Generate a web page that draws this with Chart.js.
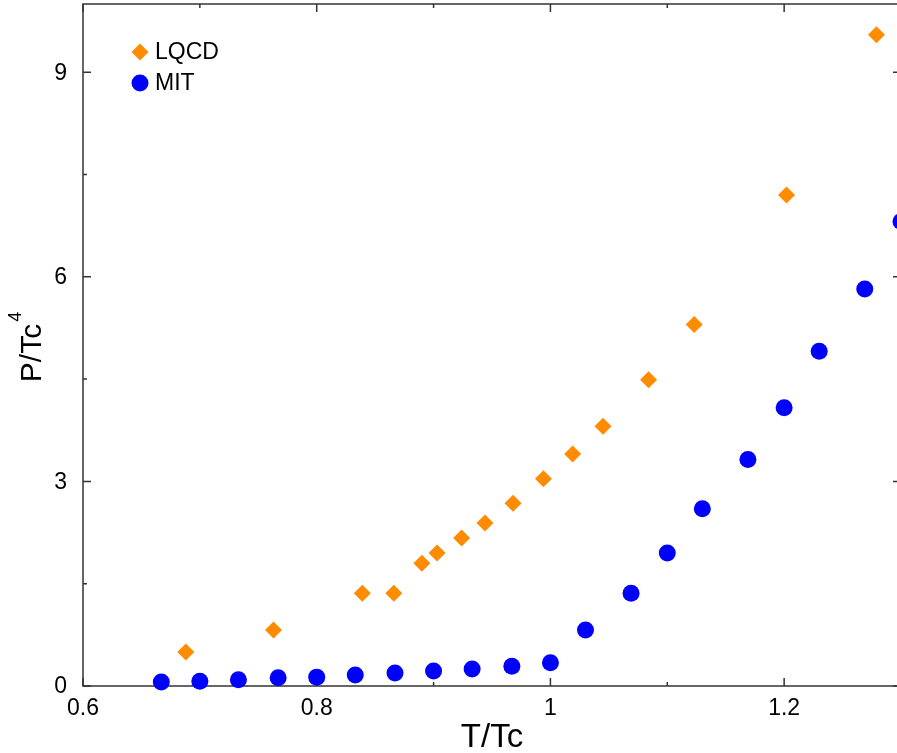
<!DOCTYPE html>
<html>
<head>
<meta charset="utf-8">
<script src="https://cdn.jsdelivr.net/npm/chart.js@4/dist/chart.umd.min.js"></script>
<style>
  html, body { margin: 0; padding: 0; background: #fff; overflow: hidden; }
  canvas { display: block; }
</style>
</head>
<body>
<canvas id="pressureChart" width="905" height="753"></canvas>
<script>
// data
const lqcdT = [0.688, 0.763, 0.839, 0.866, 0.890, 0.903, 0.924, 0.944, 0.968, 0.994, 1.019, 1.045, 1.084, 1.123, 1.202, 1.279];
const lqcdP = [0.50, 0.82, 1.36, 1.36, 1.80, 1.95, 2.17, 2.39, 2.68, 3.04, 3.40, 3.81, 4.49, 5.30, 7.20, 9.55];
const mitT = [0.667, 0.700, 0.733, 0.767, 0.800, 0.833, 0.867, 0.900, 0.933, 0.967, 1.000, 1.030, 1.069, 1.100, 1.130, 1.169, 1.200, 1.230, 1.269, 1.300];
const mitP = [0.06, 0.07, 0.09, 0.12, 0.13, 0.16, 0.19, 0.22, 0.25, 0.29, 0.34, 0.82, 1.36, 1.95, 2.60, 3.32, 4.08, 4.91, 5.82, 6.81];

const xMajorTicks = [0.6, 0.8, 1.0, 1.2];
const xMinorTicks = [0.7, 0.9, 1.1];
const yMajorTicks = [0, 3, 6, 9];
const yMinorTicks = [1.5, 4.5, 7.5];

const seriesNames = ['LQCD', 'MIT'];
const xTitle = 'T/Tc';
const yTitle = 'P/Tc';
const yTitleExp = '4';
const fontFamily = '"Liberation Sans", Arial, sans-serif';

const toPoints = (xs, ys) => xs.map((x, i) => ({ x: x, y: ys[i] }));

// frame with inward ticks on all four sides plus tick labels, drawn before the markers
const framePlugin = {
  id: 'frame',
  beforeDatasetsDraw(chart) {
    const { ctx, chartArea: a, scales: { x, y } } = chart;
    ctx.save();
    ctx.strokeStyle = '#333';
    ctx.lineWidth = 1.5;
    ctx.strokeRect(a.left, a.top, a.right - a.left, a.bottom - a.top);
    ctx.beginPath();
    const xt = (v, len) => {
      const px = x.getPixelForValue(v);
      ctx.moveTo(px, a.bottom); ctx.lineTo(px, a.bottom - len);
      ctx.moveTo(px, a.top); ctx.lineTo(px, a.top + len);
    };
    const yt = (v, len) => {
      const py = y.getPixelForValue(v);
      ctx.moveTo(a.left, py); ctx.lineTo(a.left + len, py);
      ctx.moveTo(a.right, py); ctx.lineTo(a.right - len, py);
    };
    xMajorTicks.forEach(v => xt(v, 8));
    xMinorTicks.forEach(v => xt(v, 4));
    yMajorTicks.forEach(v => yt(v, 8));
    yMinorTicks.forEach(v => yt(v, 4));
    ctx.stroke();

    ctx.fillStyle = '#000';
    ctx.font = '23px ' + fontFamily;
    ctx.textBaseline = 'middle';
    ctx.textAlign = 'center';
    xMajorTicks.forEach(v => ctx.fillText(String(v), x.getPixelForValue(v), a.bottom + 23));
    ctx.textAlign = 'right';
    yMajorTicks.forEach(v => ctx.fillText(String(v), a.left - 16, y.getPixelForValue(v) + 1));
    ctx.restore();
  }
};

// axis titles; the y one carries a raised exponent
const titlesPlugin = {
  id: 'titles',
  afterDraw(chart) {
    const { ctx, chartArea: a } = chart;
    ctx.save();
    ctx.fillStyle = '#000';
    ctx.textBaseline = 'alphabetic';
    ctx.textAlign = 'center';
    ctx.font = '33px ' + fontFamily;
    ctx.fillText(xTitle, (a.left + a.right) / 2, a.bottom + 61);

    ctx.translate(0, (a.top + a.bottom) / 2);
    ctx.rotate(-Math.PI / 2);
    ctx.textAlign = 'left';
    ctx.font = '30px ' + fontFamily;
    const w = ctx.measureText(yTitle).width;
    ctx.font = '18px ' + fontFamily;
    const w4 = ctx.measureText(yTitleExp).width;
    const start = -(w + 2 + w4) / 2 - 2;
    ctx.font = '30px ' + fontFamily;
    ctx.fillText(yTitle, start, 41);
    ctx.font = '18px ' + fontFamily;
    ctx.fillText(yTitleExp, start + w + 2, 21);
    ctx.restore();
  }
};

// legend inside the plot, top left
const innerLegend = {
  id: 'innerLegend',
  afterDatasetsDraw(chart) {
    const { ctx, chartArea: a } = chart;
    ctx.save();
    chart.data.datasets.forEach((ds, i) => {
      const cx = a.left + 57;
      const cy = a.top + 48 + i * 31;
      ctx.fillStyle = ds.backgroundColor;
      ctx.strokeStyle = ds.borderColor;
      Chart.helpers.drawPoint(ctx, { pointStyle: ds.pointStyle, radius: ds.pointRadius, borderWidth: 0, rotation: 0 }, cx, cy);
      ctx.fillStyle = '#000';
      ctx.font = '23px ' + fontFamily;
      ctx.textBaseline = 'middle';
      ctx.textAlign = 'left';
      ctx.fillText(ds.label, cx + 15, cy + 1);
    });
    ctx.restore();
  }
};

new Chart(document.getElementById('pressureChart'), {
  type: 'scatter',
  data: {
    datasets: [
      {
        label: seriesNames[0],
        data: toPoints(lqcdT, lqcdP),
        pointStyle: 'rectRot',
        pointRadius: 8.5,
        pointBorderWidth: 0,
        backgroundColor: '#ff8c00',
        borderColor: '#ff8c00',
        clip: false
      },
      {
        label: seriesNames[1],
        data: toPoints(mitT, mitP),
        pointStyle: 'circle',
        pointRadius: 8.5,
        pointBorderWidth: 0,
        backgroundColor: '#0000ff',
        borderColor: '#0000ff',
        clip: false
      }
    ]
  },
  options: {
    responsive: false,
    animation: false,
    layout: { autoPadding: false, padding: { top: 4, right: 4, left: 0, bottom: 0 } },
    plugins: {
      legend: { display: false },
      tooltip: { enabled: false }
    },
    scales: {
      x: {
        type: 'linear',
        min: 0.6,
        max: 1.3,
        grid: { display: false, drawTicks: false },
        border: { display: false },
        afterFit(scale) { scale.height = 67; },
        ticks: { display: false }
      },
      y: {
        type: 'linear',
        min: 0,
        max: 10,
        grid: { display: false, drawTicks: false },
        border: { display: false },
        afterFit(scale) { scale.width = 83; },
        ticks: { display: false }
      }
    }
  },
  plugins: [framePlugin, titlesPlugin, innerLegend]
});
</script>
</body>
</html>
